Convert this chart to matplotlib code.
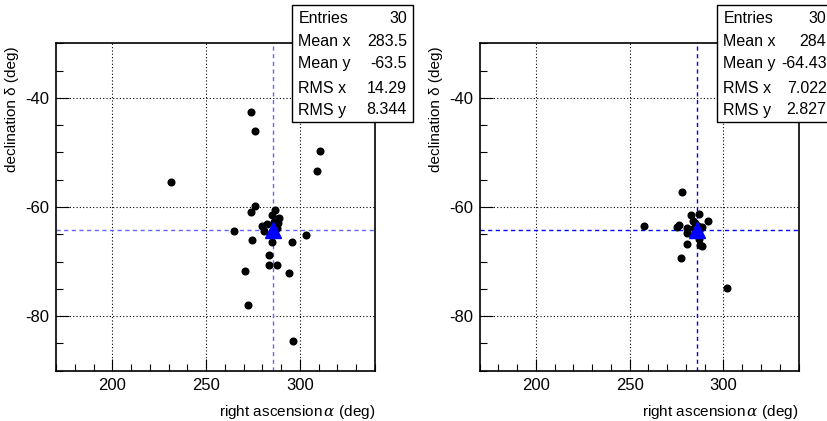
import matplotlib
matplotlib.use('Agg')
import matplotlib.pyplot as plt
from matplotlib.ticker import MultipleLocator
from matplotlib.patches import Rectangle

plt.rcParams['font.family'] = ['Liberation Sans', 'DejaVu Sans']
plt.rcParams['axes.unicode_minus'] = False
plt.rcParams['mathtext.fontset'] = 'custom'
plt.rcParams['mathtext.it'] = 'DejaVu Serif:italic'

# left panel: reconstructed directions (deg)
ra_left = [273.9, 276.2, 310.6, 309.0, 231.2, 275.9, 273.8, 286.9, 285.1, 288.7,
           280.0, 282.3, 281.0, 265.1, 287.4, 303.2, 274.5, 285.3, 296.1, 283.5,
           283.7, 288.1, 270.7, 294.5, 272.2, 296.3, 286.5, 288.0, 287.0, 288.5]
dec_left = [-42.5, -46.1, -49.8, -53.4, -55.5, -59.8, -60.9, -60.6, -61.4, -62.0,
            -63.5, -63.1, -64.4, -64.4, -63.3, -65.2, -66.0, -66.4, -66.4, -68.8,
            -70.7, -70.7, -71.7, -72.1, -78.0, -84.5, -62.8, -63.8, -64.2, -63.0]

# right panel
ra_right = [277.8, 257.4, 277.4, 301.8, 282.9, 287.0, 292.0, 275.1, 276.4, 283.7,
            280.5, 280.5, 288.6, 280.6, 287.0, 287.6, 288.6, 284.9,
            284.5, 285.0, 285.5, 286.0, 286.5, 287.0, 285.2, 286.2, 286.8, 285.8,
            286.4, 285.3]
dec_right = [-57.2, -63.5, -69.4, -74.8, -61.5, -61.2, -62.6, -63.6, -63.3, -62.5,
             -63.9, -64.7, -63.6, -66.7, -65.9, -66.9, -67.2, -62.9,
             -63.8, -64.5, -64.0, -64.8, -63.5, -64.2, -65.0, -64.6, -63.9, -64.4,
             -64.3, -64.5]

# true source position
src_ra = 285.8
src_dec = -64.2

stat_names = ['Entries', 'Mean x', 'Mean y', 'RMS x', 'RMS y']
stats_left = ['30', '283.5', '-63.5', '14.29', '8.344']
stats_right = ['30', '284', '-64.43', '7.022', '2.827']

W, H = 828, 421
fig = plt.figure(figsize=(W / 100, H / 100), dpi=100)


def px(x, y):
    # pixel coords (from top-left) -> figure fraction
    return x / W, 1 - y / H


def draw_panel(left_px, ra, dec, stats, line_color, box_left, val_right):
    l, _ = px(left_px, 0)
    ax = fig.add_axes([l, 50.3 / H, 318.8 / W, 327.4 / H])
    ax.set_xlim(170, 340)
    ax.set_ylim(-90, -30)
    ax.xaxis.set_major_locator(MultipleLocator(50))
    ax.xaxis.set_minor_locator(MultipleLocator(10))
    ax.yaxis.set_major_locator(MultipleLocator(20))
    ax.yaxis.set_minor_locator(MultipleLocator(5))
    ax.tick_params(which='both', direction='in', top=False, right=False,
                   labelsize=12, width=0.8, pad=5)
    ax.tick_params(which='major', length=9)
    ax.tick_params(which='minor', length=5)
    for s in ax.spines.values():
        s.set_linewidth(1.2)
    ax.grid(True, which='major', color='black', linestyle=(0, (1, 2)), linewidth=0.8)
    ax.axvline(src_ra, color=line_color, linestyle=(0, (3, 2.5)), linewidth=1, zorder=2)
    ax.axhline(src_dec, color=line_color, linestyle=(0, (3, 2.5)), linewidth=1, zorder=2)
    ax.plot(ra, dec, 'o', color='black', markersize=4.8, zorder=3)
    ax.plot([src_ra], [src_dec], '^', color='blue', markersize=11, zorder=4)
    ax.set_xlabel('right ascension$\\,\\alpha$ (deg)', fontsize=11, loc='right')
    ax.set_ylabel('declination \u03b4 (deg)', fontsize=11, loc='top')
    ax.xaxis.set_label_coords(1.0, -0.1)
    ax.yaxis.set_label_coords(-0.115, 0.99)

    # stats box
    bx0, by0 = px(box_left, 122)
    bx1, by1 = px(box_left + 121, 4.7)
    fig.patches.append(Rectangle((bx0, by0), bx1 - bx0, by1 - by0,
                                 transform=fig.transFigure, facecolor='white',
                                 edgecolor='black', linewidth=1, zorder=5))
    rows = [18.3, 41.7, 63.3, 88.3, 110]
    for name, val, ry in zip(stat_names, stats, rows):
        fig.text(*px(box_left + 6, ry), name, fontsize=11.5, va='center', ha='left', zorder=6)
        fig.text(*px(val_right, ry), val, fontsize=11.5, va='center', ha='right', zorder=6)
    return ax


draw_panel(56, ra_left, dec_left, stats_left, '#6464ff', 292.3, 406.8)
draw_panel(479.7, ra_right, dec_right, stats_right, 'blue', 717.3, 826.5)

plt.savefig('out.png', dpi=100)
